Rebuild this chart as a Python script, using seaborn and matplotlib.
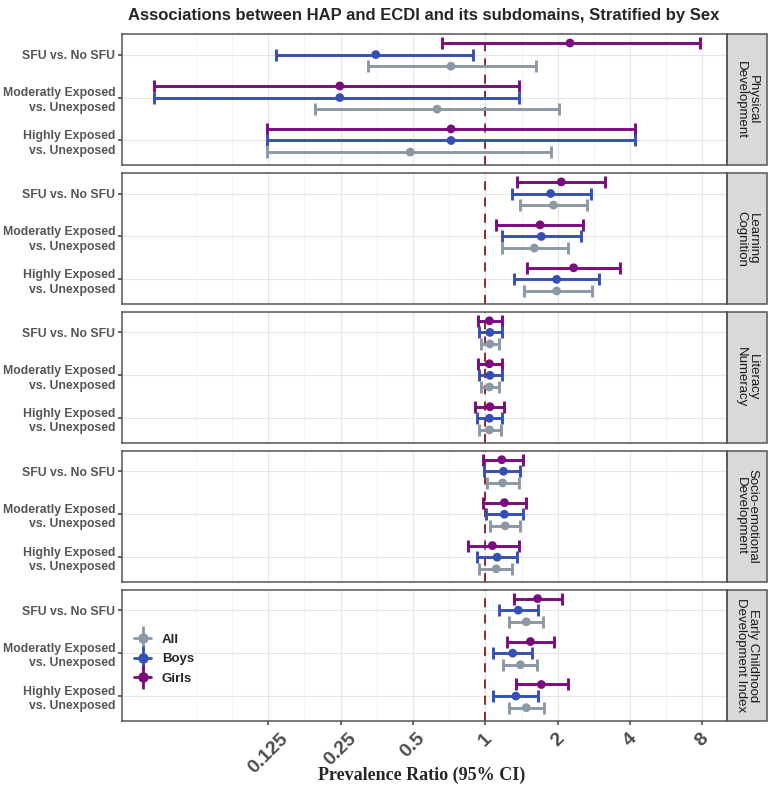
import numpy as np
import pandas as pd
import seaborn as sns
import matplotlib
matplotlib.use("Agg")
import matplotlib.pyplot as plt
from matplotlib.patches import Rectangle
from matplotlib.lines import Line2D
from matplotlib.ticker import FixedLocator, NullFormatter

domains = ["Physical\nDevelopment", "Learning\nCognition", "Literacy\nNumeracy",
           "Socio-emotional\nDevelopment", "Early Childhood\nDevelopment Index"]
comparisons = ["SFU vs. No SFU", "Moderatly Exposed\nvs. Unexposed", "Highly Exposed\nvs. Unexposed"]
groups = ["Girls", "Boys", "All"]

# each list: comparison-major, then Girls, Boys, All
phys_pr = [2.25, 0.35, 0.72, 0.248, 0.248, 0.63, 0.72, 0.72, 0.487]
phys_lo = [0.66, 0.135, 0.325, 0.042, 0.042, 0.195, 0.124, 0.124, 0.124]
phys_hi = [7.8, 0.89, 1.63, 1.38, 1.38, 2.03, 4.19, 4.19, 1.88]

learn_pr = [2.07, 1.87, 1.92, 1.69, 1.71, 1.60, 2.33, 1.98, 1.98]
learn_lo = [1.36, 1.29, 1.39, 1.11, 1.17, 1.17, 1.49, 1.32, 1.45]
learn_hi = [3.16, 2.74, 2.65, 2.56, 2.50, 2.20, 3.64, 2.98, 2.78]

lit_pr = [1.04, 1.045, 1.045, 1.04, 1.045, 1.04, 1.045, 1.04, 1.04]
lit_lo = [0.93, 0.94, 0.955, 0.93, 0.94, 0.955, 0.91, 0.92, 0.945]
lit_hi = [1.17, 1.17, 1.14, 1.17, 1.17, 1.14, 1.20, 1.17, 1.16]

socio_pr = [1.17, 1.19, 1.18, 1.20, 1.20, 1.21, 1.07, 1.12, 1.11]
socio_lo = [0.975, 0.99, 1.02, 0.98, 1.01, 1.05, 0.85, 0.92, 0.94]
socio_hi = [1.43, 1.40, 1.38, 1.48, 1.43, 1.40, 1.38, 1.36, 1.29]

ecdi_pr = [1.65, 1.37, 1.48, 1.54, 1.30, 1.40, 1.71, 1.34, 1.48]
ecdi_lo = [1.31, 1.14, 1.26, 1.23, 1.08, 1.19, 1.34, 1.08, 1.25]
ecdi_hi = [2.08, 1.65, 1.74, 1.93, 1.57, 1.64, 2.20, 1.65, 1.75]

x_breaks = [0.125, 0.25, 0.5, 1, 2, 4, 8]
x_labels = ["0.125", "0.25", "0.5", "1", "2", "4", "8"]

palette = {"All": "#8D98A7", "Boys": "#3550B5", "Girls": "#7B0A7E"}
dodge = {"Girls": -0.27, "Boys": 0.0, "All": 0.27}

rows = []
for dom, pr, lo, hi in zip(domains,
                           [phys_pr, learn_pr, lit_pr, socio_pr, ecdi_pr],
                           [phys_lo, learn_lo, lit_lo, socio_lo, ecdi_lo],
                           [phys_hi, learn_hi, lit_hi, socio_hi, ecdi_hi]):
    k = 0
    for ci, comp in enumerate(comparisons):
        for g in groups:
            rows.append(dict(domain=dom, comparison=comp, group=g, pr=pr[k], lo=lo[k], hi=hi[k],
                             ypos=ci + dodge[g]))
            k += 1
df = pd.DataFrame(rows)

sns.set_theme(style="whitegrid")
plt.rcParams["font.family"] = ["Liberation Sans", "DejaVu Sans"]

fig, axes = plt.subplots(5, 1, figsize=(7.68, 7.98), dpi=100, sharex=True)
fig.subplots_adjust(left=0.159, right=0.9466, top=0.9574, bottom=0.0965, hspace=0.057)

for i, (ax, dom) in enumerate(zip(axes, domains)):
    sub = df[df.domain == dom]
    ax.set_xscale("log", base=2)
    ax.axvline(1, color="#8B1A1A", lw=1.3, ls=(0, (5, 4)), zorder=2)
    for g in groups:
        s = sub[sub.group == g]
        ax.errorbar(s.pr, s.ypos, xerr=[s.pr - s.lo, s.hi - s.pr], fmt="none",
                    ecolor=palette[g], elinewidth=2.1, capsize=4.2, capthick=2.1, zorder=3)
    sns.scatterplot(data=sub, x="pr", y="ypos", hue="group", palette=palette, s=40,
                    edgecolor="none", legend=False, ax=ax, zorder=4)
    ax.set_xlim(2 ** -5.02, 2 ** 3.34)
    ax.set_ylim(2.58, -0.48)
    ax.set_yticks(range(len(comparisons)))
    ax.set_yticklabels(comparisons, fontsize=8.8, fontweight="bold", color="#555555", linespacing=1.3)
    ax.set_xlabel("")
    ax.set_ylabel("")
    ax.xaxis.set_major_locator(FixedLocator(x_breaks))
    ax.xaxis.set_minor_locator(FixedLocator([2 ** (k / 2) for k in range(-8, 7) if k % 2 != 0] + [0.0625]))
    ax.xaxis.set_minor_formatter(NullFormatter())
    ax.grid(True, which="major", color="#E6E6E6", lw=0.8)
    ax.grid(True, which="minor", color="#F0F0F0", lw=0.6)
    ax.tick_params(axis="y", length=3, color="#555555", pad=2, left=True)
    ax.tick_params(axis="x", which="both", length=3, color="#555555", bottom=(i == len(domains) - 1))
    ax.tick_params(axis="x", which="minor", bottom=False)
    for sp in ax.spines.values():
        sp.set_color("#555555")
        sp.set_linewidth(1.1)
    strip = Rectangle((1.0, 0.0), 0.066, 1.0, transform=ax.transAxes, clip_on=False,
                      facecolor="#D9D9D9", edgecolor="#555555", lw=1.1)
    ax.add_patch(strip)
    ax.text(1.033, 0.5, dom, transform=ax.transAxes, rotation=-90, ha="center", va="center",
            fontsize=9.5, color="#1A1A1A", linespacing=0.95)

bottom = axes[-1]
bottom.set_xticklabels(x_labels, rotation=45, ha="center", fontsize=14, fontweight="bold", color="#4D4D4D")
bottom.set_xlabel("Prevalence Ratio (95% CI)", family=["Liberation Serif", "DejaVu Serif"],
                  fontsize=13, fontweight="bold", va="center")
bottom.xaxis.set_label_coords(0.495, -0.41)

handles = []
for g in ["All", "Boys", "Girls"]:
    handles.append((Line2D([], [], color=palette[g], lw=2, marker="|", markersize=17, mew=2),
                    Line2D([], [], color=palette[g], lw=0, marker="o", markersize=6.5)))
bottom.legend(handles, ["All", "Boys", "Girls"], loc="center left", bbox_to_anchor=(0.0, 0.47),
              frameon=False, handlelength=1.3, labelspacing=0.55, handletextpad=0.8,
              prop=dict(size=9.5, weight="bold"))

fig.suptitle("Associations between HAP and ECDI and its subdomains, Stratified by Sex",
             x=0.552, y=0.99, fontsize=12, fontweight="bold")

fig.savefig("out.png", dpi=100)
